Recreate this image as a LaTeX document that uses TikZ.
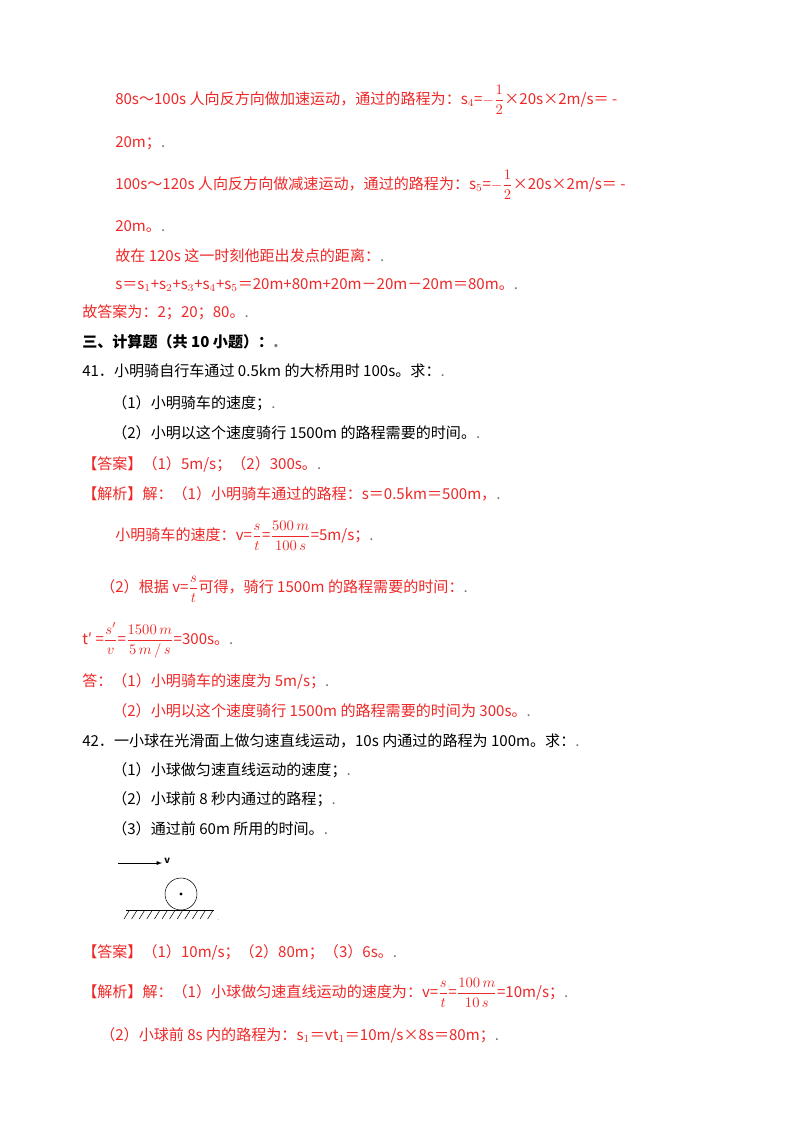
\documentclass[tikz,border=0pt]{standalone}
\usepackage{amsmath}
\usepackage{fontspec}
\setmainfont{Noto Sans CJK SC}
\definecolor{rd}{RGB}{238,40,40}
\definecolor{gd}{RGB}{120,120,120}
\newcommand{\dt}{\textcolor{gd}{.}}
\begin{document}
\begin{tikzpicture}[x=0.75pt,y=-0.75pt,
  t/.style={anchor=base west,inner sep=0pt,font=\fontsize{11.3}{13}\selectfont},
  r/.style={t,text=rd},
  b/.style={t,text=black}]
\useasboundingbox (0,0) rectangle (800,1132);
\fill[white] (0,0) rectangle (800,1132);
\node[r] (l1) at (115,104) {80s～100s 人向反方向做加速运动，通过的路程为：s$_4$=$-\dfrac{1}{2}$×20s×2m/s＝ -};
\node[r] (l2) at (115,147) {20m；\dt};
\node[r] (l3) at (115,189) {100s～120s 人向反方向做减速运动，通过的路程为：s$_5$=$-\dfrac{1}{2}$×20s×2m/s＝ -};
\node[r] (l4) at (115,231) {20m。\dt};
\node[r] (l5) at (115,261) {故在 120s 这一时刻他距出发点的距离：\dt};
\node[r] (l6) at (115,289) {s＝s$_1$+s$_2$+s$_3$+s$_4$+s$_5$＝20m+80m+20m－20m－20m＝80m。\dt};
\node[r] (l7) at (82,317) {故答案为：2；20；80。\dt};
\node[b,font=\fontsize{11.3}{13}\selectfont\bfseries] (l8) at (82,347) {三、计算题（共 10 小题）：\dt};
\node[b] (l9) at (82,376) {41．小明骑自行车通过 0.5km 的大桥用时 100s。求：\dt};
\node[b] (l10) at (112,408) {（1）小明骑车的速度；\dt};
\node[b] (l11) at (112,438) {（2）小明以这个速度骑行 1500m 的路程需要的时间。\dt};
\node[r] (l12) at (82,469) {【答案】（1）5m/s；（2）300s。\dt};
\node[r] (l13) at (82,499) {【解析】解：（1）小明骑车通过的路程：s＝0.5km＝500m，\dt};
\node[r] (l14) at (115,540) {小明骑车的速度：v=$\dfrac{s}{t}$=$\dfrac{500\,m}{100\,s}$=5m/s；\dt};
\node[r] (l15) at (100,592) {（2）根据 v=$\dfrac{s}{t}$可得，骑行 1500m 的路程需要的时间：\dt};
\node[r] (l16) at (82,644) {t′ =$\dfrac{s'}{v}$=$\dfrac{1500\,m}{5\,m\,/\,s}$=300s。\dt};
\node[r] (l17) at (82,686) {答：（1）小明骑车的速度为 5m/s；\dt};
\node[r] (l18) at (112,716) {（2）小明以这个速度骑行 1500m 的路程需要的时间为 300s。\dt};
\node[b] (l19) at (82,746) {42．一小球在光滑面上做匀速直线运动，10s 内通过的路程为 100m。求：\dt};
\node[b] (l20) at (112,775) {（1）小球做匀速直线运动的速度；\dt};
\node[b] (l21) at (112,804) {（2）小球前 8 秒内通过的路程；\dt};
\node[b] (l22) at (112,834) {（3）通过前 60m 所用的时间。\dt};
% figure
\coordinate (a1) at (118,863);
\coordinate (a2) at (162,863);
\draw[-{latex}] (a1) -- (a2);
\node[anchor=west,inner sep=0pt,font=\fontsize{7}{8}\selectfont\bfseries] (v) at (164,861) {v};
\node[circle,draw,minimum size=24pt,inner sep=0pt] (ball) at (181,894) {};
\fill (ball.center) circle (1.6);
\draw[line width=1.1pt] (126,910.5) -- (214,910.5);
\foreach \i in {0,...,11} \draw (129+\i*7.6,911) -- ++(-5,8);
\node[anchor=base west,inner sep=0pt,text=gd,font=\tiny] (d) at (217,920) {.};
\node[r] (l23) at (82,957) {【答案】（1）10m/s；（2）80m；（3）6s。\dt};
\node[r] (l24) at (82,997) {【解析】解：（1）小球做匀速直线运动的速度为：v=$\dfrac{s}{t}$=$\dfrac{100\,m}{10\,s}$=10m/s；\dt};
\node[r] (l25) at (100,1040) {（2）小球前 8s 内的路程为：s$_1$＝vt$_1$＝10m/s×8s＝80m；\dt};
\end{tikzpicture}
\end{document}
